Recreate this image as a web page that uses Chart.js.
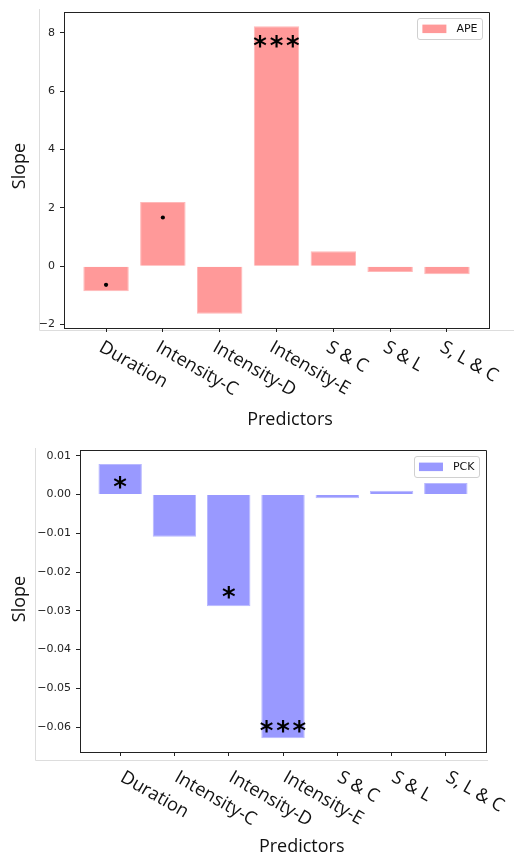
<!DOCTYPE html>
<html><head><meta charset="utf-8">
<script src="https://cdn.jsdelivr.net/npm/chart.js@4"></script>
<style>
html,body{margin:0;padding:0;background:#fff;width:514px;height:856px;overflow:hidden}
.wrap{position:absolute;left:0;width:514px;height:428px}
canvas{display:block}
</style></head><body>
<div class="wrap" style="top:0"><canvas id="c1" width="514" height="428"></canvas></div>
<div class="wrap" style="top:428px"><canvas id="c2" width="514" height="428"></canvas></div>
<script>
// ---- data ----
const categories = ['Duration', 'Intensity-C', 'Intensity-D', 'Intensity-E', 'S & C', 'S & L', 'S, L & C'];

const apeValues = [-0.86, 2.20, -1.63, 8.23, 0.51, -0.20, -0.28];
const apeMarks  = ['.', '.', '', '***', '', '', ''];
const apeMarkY  = [-0.64, 1.67, null, 7.71, null, null, null];
const apeTicks  = [-2, 0, 2, 4, 6, 8];

const pckValues = [0.0079, -0.0109, -0.0288, -0.0629, -0.00095, 0.0010, 0.0030];
const pckMarks  = ['*', '', '*', '***', '', '', ''];
const pckMarkY  = [0.0030, null, -0.0254, -0.0598, null, null, null];
const pckTicks  = [-0.06, -0.05, -0.04, -0.03, -0.02, -0.01, 0.00, 0.01];

const TITLE_FONT = '"Open Sans", "Noto Sans", sans-serif';
const TICK_FONT = '"DejaVu Sans", sans-serif';

function fmtTick(v, d) {
  const s = Math.abs(v).toFixed(d);
  return (v < -1e-12 ? '\u2212' : '') + s;
}

function decoPlugin(cfg) {
  const al = p => Math.round(p - 0.5) + 0.5;
  return {
    id: 'deco',
    beforeDraw(chart) {
      const ctx = chart.ctx, f = cfg.fig;
      ctx.save();
      ctx.strokeStyle = '#dddddd';
      ctx.lineWidth = 1;
      ctx.beginPath();
      ctx.moveTo(f.x + 0.5, f.top);
      ctx.lineTo(f.x + 0.5, f.y + 0.5);
      ctx.lineTo(f.right, f.y + 0.5);
      ctx.stroke();
      ctx.restore();
    },
    afterDraw(chart) {
      const ctx = chart.ctx, ca = chart.chartArea, xs = chart.scales.x, ys = chart.scales.y;
      ctx.save();
      // top & right spines
      ctx.strokeStyle = '#222';
      ctx.lineWidth = 1;
      ctx.beginPath();
      ctx.moveTo(al(ca.left), al(ca.top));
      ctx.lineTo(al(ca.right), al(ca.top));
      ctx.lineTo(al(ca.right), al(ca.bottom));
      ctx.stroke();

      // significance stars
      ctx.fillStyle = '#000';
      ctx.font = 'bold ' + cfg.starSize + 'px ' + TICK_FONT;
      ctx.textAlign = 'center';
      ctx.textBaseline = 'alphabetic';
      const m = ctx.measureText('*');
      const shift = (m.actualBoundingBoxAscent - m.actualBoundingBoxDescent) / 2;
      cfg.marks.forEach((mk, i) => {
        if (!mk || mk === '.') return;
        const cx = xs.getPixelForValue(i);
        const cy = ys.getPixelForValue(cfg.markY[i]);
        const n = mk.length;
        for (let k = 0; k < n; k++) {
          const sx = cx + (k - (n - 1) / 2) * cfg.starGap;
          ctx.fillText('*', sx, cy + shift);
        }
      });

      // rotated category labels
      ctx.fillStyle = '#111';
      ctx.font = cfg.labelSize + 'px ' + TITLE_FONT;
      ctx.textAlign = 'left';
      ctx.textBaseline = 'alphabetic';
      categories.forEach((c, i) => {
        const px = xs.getPixelForValue(i);
        ctx.save();
        ctx.translate(px + cfg.lblDx, ca.bottom + cfg.lblDy);
        ctx.rotate(Math.PI / 6);
        ctx.fillText(c, 0, 0);
        ctx.restore();
      });

      // axis titles
      ctx.font = cfg.titleSize + 'px ' + TITLE_FONT;
      ctx.textAlign = 'center';
      ctx.textBaseline = 'alphabetic';
      ctx.fillText('Predictors', cfg.xTitle.x, cfg.xTitle.y);
      ctx.save();
      ctx.translate(cfg.yTitle.x, cfg.yTitle.y);
      ctx.rotate(-Math.PI / 2);
      ctx.textBaseline = 'middle';
      ctx.fillText('Slope', 0, 0);
      ctx.restore();

      // legend
      ctx.font = '11px ' + TICK_FONT;
      const tw = ctx.measureText(cfg.label).width;
      const bw = 4.4 + 24 + 10 + tw + 5, bh = 20.6;
      const bx = ca.right - 6.5 - bw, by = ca.top + 6.5;
      ctx.beginPath();
      ctx.roundRect(al(bx), al(by), Math.round(bw), Math.round(bh), 2.5);
      ctx.fillStyle = 'rgba(255,255,255,0.85)';
      ctx.fill();
      ctx.strokeStyle = '#d0d0d0';
      ctx.stroke();
      ctx.fillStyle = cfg.color;
      ctx.fillRect(bx + 4.4, by + bh / 2 - 4.2, 24, 8.5);
      ctx.fillStyle = '#111';
      ctx.textAlign = 'left';
      ctx.textBaseline = 'middle';
      ctx.fillText(cfg.label, bx + 4.4 + 24 + 10, by + bh / 2 + 0.5);
      ctx.restore();
    }
  };
}

function buildChart(id, cfg) {
  const barData = cfg.values.map((v, i) => ({x: i, y: v}));
  const dotData = cfg.marks.map((mk, i) => mk === '.' ? {x: i, y: cfg.markY[i]} : null).filter(Boolean);
  return new Chart(document.getElementById(id), {
    type: 'bar',
    data: {
      datasets: [
        {type: 'bar', label: cfg.label, data: barData, backgroundColor: cfg.color,
         borderColor: cfg.edge, borderWidth: 1, categoryPercentage: 0.8, barPercentage: 1.0, order: 2},
        {type: 'scatter', label: 'sig', data: dotData, pointRadius: 2.1,
         pointBackgroundColor: '#000', pointBorderWidth: 0, order: 1}
      ]
    },
    options: {
      responsive: false, animation: false, events: [],
      layout: {padding: {top: cfg.padTop, right: cfg.padRight, left: 0, bottom: 0}},
      plugins: {legend: {display: false}, tooltip: {enabled: false}},
      scales: {
        x: {
          type: 'linear', min: -0.74, max: 6.74, offset: false,
          afterBuildTicks: s => { s.ticks = categories.map((_, i) => ({value: i})); },
          afterFit: s => { s.height = cfg.xH; },
          ticks: {display: false},
          grid: {display: true, offset: false, drawOnChartArea: false, drawTicks: true, tickLength: 4, color: '#222', lineWidth: 1},
          border: {display: true, color: '#222', width: 1}
        },
        y: {
          type: 'linear', min: cfg.yMin, max: cfg.yMax,
          afterBuildTicks: s => { s.ticks = cfg.ticks.map(v => ({value: v})); },
          afterFit: s => { s.width = cfg.yW; },
          ticks: {font: {family: TICK_FONT, size: 11}, color: '#222', padding: 5,
                  callback: v => fmtTick(v, cfg.dec)},
          grid: {display: true, offset: false, drawOnChartArea: false, drawTicks: true, tickLength: 4, color: '#222', lineWidth: 1},
          border: {display: true, color: '#222', width: 1}
        }
      }
    },
    plugins: [decoPlugin(cfg)]
  });
}

buildChart('c1', {
  label: 'APE', values: apeValues, marks: apeMarks, markY: apeMarkY, ticks: apeTicks, dec: 0,
  color: '#ff9999', edge: '#ffb8b8',
  yMin: -2.12, yMax: 8.72, padTop: 12, padRight: 25, yW: 64, xH: 100,
  starSize: 26, starGap: 16.4, labelSize: 18.3, titleSize: 18,
  lblDx: -8, lblDy: 22.5,
  xTitle: {x: 290, y: 424.5}, yTitle: {x: 20, y: 166},
  fig: {x: 39, top: 9, y: 330, right: 514}
});

buildChart('c2', {
  label: 'PCK', values: pckValues, marks: pckMarks, markY: pckMarkY, ticks: pckTicks, dec: 2,
  color: '#9999ff', edge: '#b8b8ff',
  yMin: -0.06645, yMax: 0.01150, padTop: 22, padRight: 28, yW: 80, xH: 104,
  starSize: 26, starGap: 16.4, labelSize: 18.3, titleSize: 18,
  lblDx: -1, lblDy: 28.5,
  xTitle: {x: 301.7, y: 423.8}, yTitle: {x: 20, y: 171},
  fig: {x: 35, top: 20, y: 332, right: 488}
});
</script>
</body></html>
